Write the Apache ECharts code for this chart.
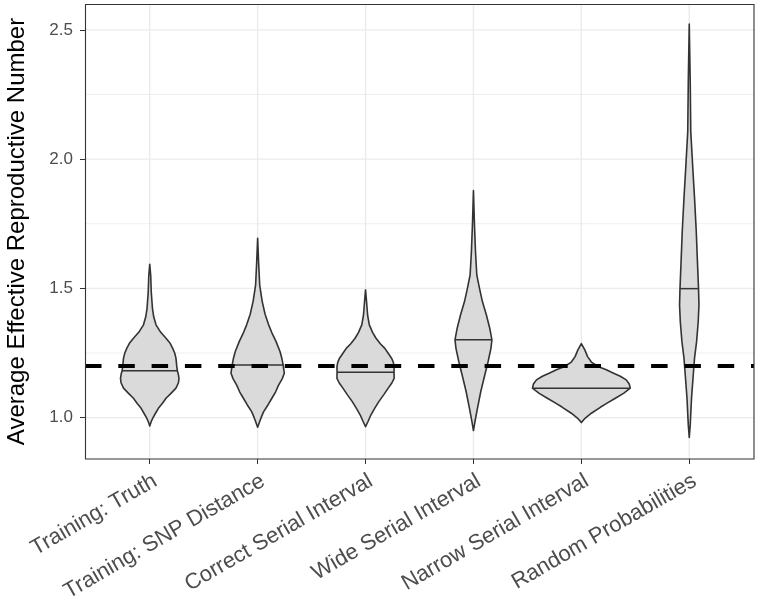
<!DOCTYPE html>
<html>
<head>
<meta charset="utf-8">
<script src="https://cdn.jsdelivr.net/npm/echarts@6/dist/echarts.min.js"></script>
<style>
html,body{margin:0;padding:0;background:#ffffff;}
#chart{width:760px;height:599px;}
</style>
</head>
<body>
<div id="chart"></div>
<script>
// ---------- data ----------
const categories = ['Training: Truth', 'Training: SNP Distance', 'Correct Serial Interval',
  'Wide Serial Interval', 'Narrow Serial Interval', 'Random Probabilities'];
const xTickValues = [1, 2, 3, 4, 5, 6];
const yTickValues = [1.0, 1.5, 2.0, 2.5];
const yMinorValues = [1.25, 1.75, 2.25];
const medians = [1.181, 1.204, 1.176, 1.301, 1.114, 1.499];
const referenceR = 1.2;
const yTitle = 'Average Effective Reproductive Number';

// violin outlines: value (y) and half-width of the density (x-axis units)
const truthY = [0.968,0.985,0.998,1.015,1.036,1.055,1.075,1.095,1.114,1.135,1.152,1.170,1.181,1.200,1.230,1.250,1.268,1.290,1.307,1.330,1.359,1.390,1.423,1.487,1.550,1.593];
const truthW = [0,0.014,0.028,0.051,0.080,0.116,0.151,0.199,0.243,0.266,0.271,0.264,0.256,0.250,0.243,0.231,0.213,0.185,0.151,0.102,0.058,0.037,0.025,0.014,0.009,0];
const snpY = [0.963,0.985,1.005,1.023,1.050,1.075,1.100,1.126,1.150,1.172,1.204,1.230,1.255,1.294,1.330,1.359,1.400,1.450,1.513,1.600,1.694];
const snpW = [0,0.019,0.037,0.056,0.097,0.132,0.167,0.194,0.227,0.247,0.236,0.224,0.208,0.171,0.130,0.102,0.069,0.042,0.019,0.009,0];
const correctY = [0.965,0.985,1.010,1.035,1.062,1.090,1.114,1.135,1.152,1.176,1.197,1.215,1.230,1.250,1.268,1.285,1.307,1.330,1.359,1.397,1.450,1.494];
const correctW = [0,0.023,0.049,0.083,0.123,0.171,0.210,0.245,0.265,0.264,0.265,0.257,0.241,0.208,0.179,0.139,0.097,0.065,0.035,0.019,0.009,0];
const wideY = [0.950,0.985,1.036,1.101,1.165,1.217,1.268,1.301,1.346,1.397,1.449,1.500,1.552,1.642,1.750,1.878];
const wideW = [0,0.014,0.037,0.068,0.105,0.136,0.162,0.171,0.151,0.120,0.083,0.056,0.031,0.019,0.009,0];
const narrowY = [0.981,0.995,1.017,1.040,1.056,1.075,1.094,1.114,1.130,1.146,1.160,1.172,1.185,1.197,1.215,1.236,1.262,1.286];
const narrowW = [0,0.028,0.093,0.176,0.238,0.315,0.391,0.453,0.444,0.416,0.361,0.299,0.231,0.160,0.093,0.058,0.032,0];
const randomY = [0.923,0.972,1.075,1.165,1.230,1.294,1.371,1.436,1.498,1.591,1.720,1.849,1.978,2.107,2.300,2.522];
const randomW = [0,0.009,0.021,0.037,0.049,0.068,0.083,0.090,0.086,0.077,0.065,0.049,0.031,0.014,0.009,0];

const profileY = [truthY, snpY, correctY, wideY, narrowY, randomY];
const profileW = [truthW, snpW, correctW, wideW, narrowW, randomW];

// ---------- chart ----------
const FONT = '"Liberation Sans", Arial, Helvetica, sans-serif';
const chart = echarts.init(document.getElementById('chart'));

function hLines(width, color) {
  return function (params, api) {
    const cs = params.coordSys;
    const p = api.coord([api.value(0), api.value(1)]);
    return {type: 'line', shape: {x1: cs.x, y1: p[1], x2: cs.x + cs.width, y2: p[1]},
      style: {stroke: color, lineWidth: width}};
  };
}
function vLines(width, color) {
  return function (params, api) {
    const cs = params.coordSys;
    const p = api.coord([api.value(0), api.value(1)]);
    return {type: 'line', shape: {x1: p[0], y1: cs.y, x2: p[0], y2: cs.y + cs.height},
      style: {stroke: color, lineWidth: width}};
  };
}

function violinItem(params, api) {
  const i = params.dataIndex;
  const cx = api.value(0), med = api.value(1);
  const ys = profileY[i], ws = profileW[i];
  const pts = [];
  for (let k = 0; k < ys.length; k++) pts.push(api.coord([cx - ws[k], ys[k]]));
  for (let k = ys.length - 1; k >= 0; k--) pts.push(api.coord([cx + ws[k], ys[k]]));
  let wm = 0;
  for (let k = 0; k < ys.length - 1; k++) {
    if (med >= ys[k] && med <= ys[k + 1]) {
      const t = (med - ys[k]) / (ys[k + 1] - ys[k]);
      wm = ws[k] + t * (ws[k + 1] - ws[k]);
    }
  }
  const a = api.coord([cx - wm, med]), b = api.coord([cx + wm, med]);
  return {type: 'group', children: [
    {type: 'polygon', shape: {points: pts},
      style: {fill: '#DADADA', stroke: '#333333', lineWidth: 1.6, lineJoin: 'round'}},
    {type: 'line', shape: {x1: a[0], y1: a[1], x2: b[0], y2: b[1]},
      style: {stroke: '#333333', lineWidth: 1.5}}
  ]};
}

function refLine(params, api) {
  const cs = params.coordSys;
  const p = api.coord([api.value(0), api.value(1)]);
  return {type: 'line', shape: {x1: cs.x, y1: p[1], x2: cs.x + cs.width, y2: p[1]},
    style: {stroke: '#000000', lineWidth: 4, lineDash: [16.5, 16.8], lineCap: 'butt'}};
}

const option = {
  animation: false,
  backgroundColor: '#ffffff',
  grid: {left: 85, right: 6, top: 4, bottom: 140, outerBoundsMode: 'none', containLabel: false},
  xAxis: {
    type: 'value', min: 0.4, max: 6.6,
    splitLine: {show: false},
    axisLine: {show: false, onZero: false},
    axisTick: {show: true, customValues: xTickValues, length: 5, lineStyle: {color: '#333333', width: 1}},
    axisLabel: {customValues: xTickValues, rotate: 30, margin: 11, align: 'right', verticalAlign: 'top',
      formatter: function (v) { return categories[Math.round(v) - 1]; },
      color: '#4D4D4D', fontSize: 22, fontFamily: FONT}
  },
  yAxis: {
    type: 'value', min: 0.84, max: 2.6,
    splitLine: {show: false},
    axisLine: {show: false, onZero: false},
    axisTick: {show: true, customValues: yTickValues, length: 5, lineStyle: {color: '#333333', width: 1}},
    axisLabel: {customValues: yTickValues, margin: 12,
      formatter: function (v) { return v.toFixed(1); },
      color: '#4D4D4D', fontSize: 17, fontFamily: FONT},
    name: yTitle, nameLocation: 'middle', nameGap: 56, nameMoveOverlap: false,
    nameTextStyle: {fontSize: 24, color: '#000000', fontFamily: FONT}
  },
  series: [
    {type: 'custom', name: 'minor', silent: true, z: 1, renderItem: hLines(0.8, '#EBEBEB'),
      encode: {x: 0, y: 1}, data: yMinorValues.map(function (v) { return [3.5, v]; })},
    {type: 'custom', name: 'majorY', silent: true, z: 1, renderItem: hLines(1.4, '#EBEBEB'),
      encode: {x: 0, y: 1}, data: yTickValues.map(function (v) { return [3.5, v]; })},
    {type: 'custom', name: 'majorX', silent: true, z: 1, renderItem: vLines(1.4, '#EBEBEB'),
      encode: {x: 0, y: 1}, data: xTickValues.map(function (v) { return [v, 1.5]; })},
    {type: 'custom', name: 'violins', z: 2, renderItem: violinItem,
      encode: {x: 0, y: 1}, data: medians.map(function (m, i) { return [xTickValues[i], m]; })},
    {type: 'custom', name: 'reference', silent: true, z: 3, renderItem: refLine,
      encode: {x: 0, y: 1}, data: [[3.5, referenceR]]}
  ],
  graphic: [{
    type: 'rect', z: 100, silent: true,
    shape: {x: 85.5, y: 4.5, width: 668.5, height: 454.5},
    style: {fill: 'none', stroke: '#333333', lineWidth: 1.1}
  }]
};
chart.setOption(option);
</script>
</body>
</html>
